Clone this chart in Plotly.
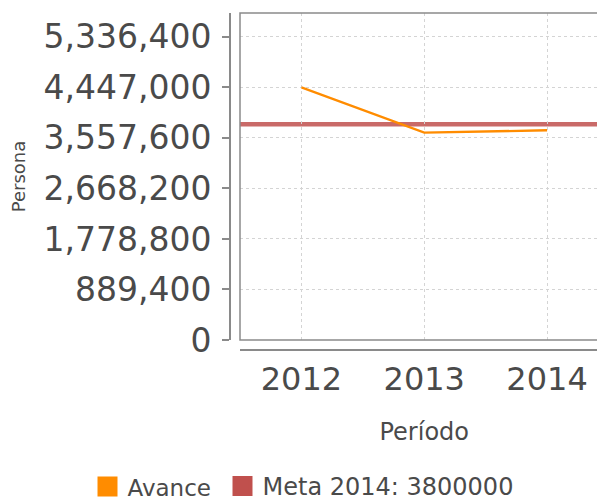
import plotly.graph_objects as go

# data
periods = ["2012", "2013", "2014"]
avance = [4447000, 3650000, 3692000]
meta_value = 3800000
series_names = ["Avance", "Meta 2014: 3800000"]
series_colors = ["#ff8c00", "#c0504d"]
y_ticks = [0, 889400, 1778800, 2668200, 3557600, 4447000, 5336400]

W, H = 605, 501
OFF = 8  # page body margin shifts the figure by 8px
FONT = "DejaVu Sans"
AXIS_GRAY = "#8a8a8a"
TEXT = "#4a4a4a"


def px_x(x):
    return (x - OFF) / W


def px_y(y):
    return (H - (y - OFF)) / H


fig = go.Figure()
fig.add_trace(
    go.Scatter(
        x=periods,
        y=avance,
        mode="lines",
        line=dict(color=series_colors[0], width=2.3),
        showlegend=False,
    )
)
# legend proxies (square swatches like the original), one legend each
for name, color, leg in zip(series_names, series_colors, ["legend", "legend2"]):
    fig.add_trace(
        go.Scatter(
            x=[None],
            y=[None],
            mode="markers",
            name=name,
            legend=leg,
            marker=dict(symbol="square", size=16, color=color,
                        line=dict(color=color, width=4)),
        )
    )

fig.add_hline(
    y=meta_value,
    line=dict(color="rgba(192,80,77,0.85)", width=4.5),
    layer="below",
)
# plot frame
fig.add_shape(
    type="rect", xref="x domain", yref="y domain",
    x0=0, x1=1, y0=0, y1=1,
    line=dict(color=AXIS_GRAY, width=1.5),
    layer="above",
)

fig.update_xaxes(
    type="category",
    domain=[px_x(240), px_x(608.5)],
    anchor="free",
    position=px_y(352),
    range=[-0.5, 2.5],
    automargin=False,
    showline=True, linecolor=AXIS_GRAY, linewidth=2,
    ticks="", ticklen=0, ticklabelstandoff=1,
    tickfont=dict(family=FONT, size=32, color=TEXT),
    showgrid=True, gridcolor="#d4d4d4", gridwidth=1, griddash="3px,3px",
    zeroline=False,
    title=dict(text="Período", font=dict(family=FONT, size=24, color=TEXT),
               standoff=25),
)
fig.update_yaxes(
    domain=[px_y(342), px_y(13)],
    anchor="free",
    position=px_x(230),
    range=[0, 5757000],
    automargin=False,
    tickvals=y_ticks,
    tickformat=",d",
    showline=True, linecolor=AXIS_GRAY, linewidth=2,
    ticks="outside", ticklen=7, tickwidth=1.5, tickcolor=AXIS_GRAY,
    ticklabelstandoff=4,
    tickfont=dict(family=FONT, size=33, color=TEXT),
    showgrid=True, gridcolor="#d4d4d4", gridwidth=1, griddash="3px,3px",
    zeroline=False,
    title=dict(text="Persona", font=dict(family=FONT, size=18, color=TEXT),
               standoff=24),
)

legend_common = dict(
    orientation="h",
    xanchor="left",
    y=px_y(489.5), yanchor="middle",
    itemsizing="trace",
    bgcolor="rgba(0,0,0,0)",
)
fig.update_layout(
    width=W,
    height=H,
    margin=dict(l=0, r=0, t=0, b=0),
    paper_bgcolor="white",
    plot_bgcolor="white",
    font=dict(family=FONT, color=TEXT),
    legend=dict(x=px_x(87.5), font=dict(family=FONT, size=23, color=TEXT),
                **legend_common),
    legend2=dict(x=px_x(222.5), font=dict(family=FONT, size=24, color=TEXT),
                 **legend_common),
)

fig.write_html("out.html")
